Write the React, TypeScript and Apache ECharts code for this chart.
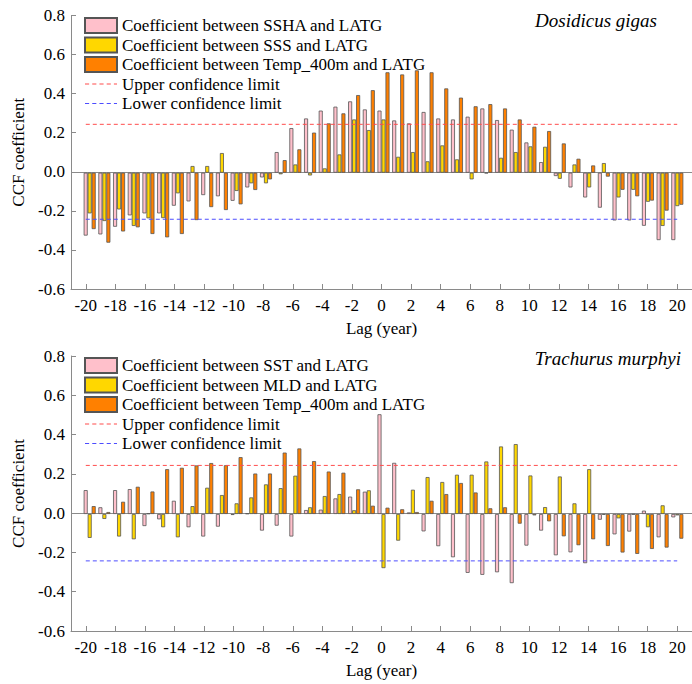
import React, { useEffect, useRef } from "react";
import * as echarts from "echarts";

// Lag (years) for every bar group, and the lags that carry a tick label
const LAGS = [
  -20, -19, -18, -17, -16, -15, -14, -13, -12, -11, -10, -9, -8, -7, -6, -5, -4, -3, -2, -1, 0,
  1, 2, 3, 4, 5, 6, 7, 8, 9, 10, 11, 12, 13, 14, 15, 16, 17, 18, 19, 20,
];
const LAG_TICKS = [-20, -18, -16, -14, -12, -10, -8, -6, -4, -2, 0, 2, 4, 6, 8, 10, 12, 14, 16, 18, 20];

// 95% confidence limits of the cross-correlation
const UPPER_LIMIT = 0.243;
const LOWER_LIMIT = -0.243;

// Dosidicus gigas
const DG_SSHA = [
  -0.32, -0.314, -0.275, -0.217, -0.207, -0.207, -0.168, -0.146, -0.114, -0.12, -0.143, -0.075, -0.024,
  0.105, 0.227, 0.276, 0.316, 0.336, 0.363, 0.322, 0.316, 0.266, 0.251, 0.309, 0.276, 0.271, 0.285,
  0.327, 0.268, 0.219, 0.154, 0.054, -0.017, -0.075, -0.126, -0.178, -0.243, -0.243, -0.27, -0.343, -0.343,
];
const DG_SSS = [
  -0.207, -0.246, -0.187, -0.271, -0.232, -0.231, -0.105, 0.034, 0.034, 0.1, -0.093, -0.054, -0.054,
  -0.008, 0.042, -0.014, 0.022, 0.093, 0.271, 0.217, 0.271, 0.081, 0.105, 0.058, 0.139, 0.068, -0.034,
  -0.003, 0.076, 0.105, 0.134, 0.132, -0.031, 0.042, -0.075, 0.049, -0.126, -0.087, -0.148, -0.271, -0.17,
];
const DG_TEMP400 = [
  -0.287, -0.356, -0.299, -0.278, -0.312, -0.329, -0.312, -0.241, -0.175, -0.19, -0.161, -0.088, -0.034,
  0.064, 0.119, 0.204, 0.251, 0.302, 0.395, 0.42, 0.511, 0.5, 0.521, 0.511, 0.429, 0.382, 0.338,
  0.349, 0.327, 0.271, 0.234, 0.212, 0.149, 0.071, 0.037, -0.02, -0.087, -0.12, -0.142, -0.193, -0.163,
];

// Trachurus murphyi
const TM_SST = [
  0.121, 0.034, 0.121, 0.126, -0.061, -0.027, 0.067, -0.067, -0.114, -0.064, -0.005, 0.003, -0.084,
  -0.059, -0.114, 0.02, 0.022, 0.079, 0.088, 0.113, 0.505, 0.259, 0.008, -0.088, -0.163, -0.219, -0.298,
  -0.308, -0.295, -0.35, -0.16, -0.084, -0.209, -0.194, -0.249, -0.029, -0.103, -0.089, 0.017, -0.118, -0.017,
];
const TM_MLD = [
  -0.121, -0.025, -0.114, -0.128, 0.003, -0.067, -0.118, 0.04, 0.133, 0.096, 0.054, 0.084, 0.15,
  0.131, 0.194, 0.034, 0.091, 0.101, 0.019, 0.12, -0.274, -0.135, 0.123, 0.187, 0.162, 0.199, 0.199,
  0.266, 0.342, 0.354, 0.195, 0.035, 0.19, 0.054, 0.227, -0.004, -0.022, -0.003, -0.067, 0.044, -0.007,
];
const TM_TEMP400 = [
  0.04, 0.01, 0.062, 0.138, 0.114, 0.227, 0.234, 0.246, 0.258, 0.247, 0.288, 0.205, 0.205,
  0.311, 0.332, 0.268, 0.215, 0.209, 0.125, 0.042, 0.032, 0.024, 0.01, 0.067, 0.101, 0.157, 0.109,
  0.029, 0.034, -0.049, -0.007, -0.037, -0.113, -0.158, -0.128, -0.162, -0.195, -0.202, -0.177, -0.17, -0.125,
];

const SERIF = "Liberation Serif, serif";
const AXIS_GREY = "#8a8a8a";
const BAR_EDGE = "#555555";
const PINK = "#FFC0CB";
const GOLD = "#FFD700";
const ORANGE = "#FF8000";
const RED = "#ff4d4d";
const BLUE = "#4d4dff";

// short dashes used as the legend key of the confidence limits
const DASH_ICON = "path://M0 0h4v1H0z M7 0h4v1H7z M14 0h4v1h-4z M21 0h4v1h-4z M28 0h3v1h-3z";

const PX_PER_LAG = 14.85;
const BAR_W = 4;

type PanelProps = {
  species: string;
  names: string[];
  values: number[][];
  gridTop: number;
  gridHeight: number;
  legendTop: number;
  speciesTop: number;
  speciesRight: number;
};

function buildOption(p: PanelProps) {
  const width = 42 * PX_PER_LAG;
  const colors = [PINK, GOLD, ORANGE];
  const label = { fontFamily: SERIF, fontSize: 17, color: "#000" };

  const bars = p.values.map((vals, k) => ({
    type: "bar",
    name: p.names[k],
    xAxisIndex: 1,
    yAxisIndex: 1,
    barWidth: BAR_W,
    barGap: "0%",
    itemStyle: { color: colors[k], borderColor: BAR_EDGE, borderWidth: 0.8 },
    data: LAGS.map((lag, i) => [lag, vals[i]]),
    z: 2,
  }));

  const limit = (name: string, v: number, color: string, zeroLine: boolean) => ({
    type: "line",
    name,
    xAxisIndex: 0,
    yAxisIndex: 0,
    symbol: "none",
    lineStyle: { color, width: 1, type: [4, 3] },
    itemStyle: { color },
    data: [
      [LAG_TICKS[0], v],
      [LAG_TICKS[LAG_TICKS.length - 1], v],
    ],
    z: 3,
    markLine: zeroLine
      ? {
          silent: true,
          symbol: ["none", "none"],
          label: { show: false },
          lineStyle: { color: AXIS_GREY, type: "solid", width: 1 },
          data: [{ yAxis: 0 }],
          z: 1,
        }
      : undefined,
  });

  const fmtY = (v: number) => (Math.abs(v) < 1e-9 ? "0.0" : v.toFixed(1));

  return {
    animation: false,
    textStyle: { fontFamily: SERIF },
    grid: [
      { left: 71, top: p.gridTop, width, height: p.gridHeight },
      { left: 71 + BAR_W, top: p.gridTop, width, height: p.gridHeight },
    ],
    xAxis: [
      {
        type: "value",
        gridIndex: 0,
        min: -21,
        max: 21,
        splitLine: { show: false },
        axisLine: { show: true, onZero: false, lineStyle: { color: AXIS_GREY, width: 1 } },
        axisTick: {
          show: true,
          inside: true,
          length: 5,
          customValues: LAG_TICKS,
          lineStyle: { color: AXIS_GREY },
        },
        axisLabel: { ...label, margin: 8, customValues: LAG_TICKS },
        name: "Lag (year)",
        nameLocation: "middle",
        nameGap: 31,
        nameTextStyle: label,
      },
      { type: "value", gridIndex: 1, min: -21, max: 21, show: false },
    ],
    yAxis: [
      {
        type: "value",
        gridIndex: 0,
        min: -0.6,
        max: 0.8,
        interval: 0.2,
        splitLine: { show: false },
        axisLine: { show: true, onZero: false, lineStyle: { color: AXIS_GREY, width: 1 } },
        axisTick: { show: true, inside: true, length: 5, lineStyle: { color: AXIS_GREY } },
        axisLabel: { ...label, margin: 6, formatter: fmtY },
        name: "CCF coefficient",
        nameLocation: "middle",
        nameGap: 43,
        nameTextStyle: label,
      },
      { type: "value", gridIndex: 1, min: -0.6, max: 0.8, show: false },
    ],
    legend: {
      orient: "vertical",
      left: 84,
      top: p.legendTop,
      itemWidth: 32,
      itemHeight: 15,
      itemGap: 2.5,
      padding: 0,
      symbolKeepAspect: true,
      textStyle: { ...label, lineHeight: 17 },
      data: [
        { name: p.names[0], icon: "rect" },
        { name: p.names[1], icon: "rect" },
        { name: p.names[2], icon: "rect" },
        { name: "Upper confidence limit", icon: DASH_ICON },
        { name: "Lower confidence limit", icon: DASH_ICON },
      ],
    },
    graphic: [
      {
        type: "text",
        right: p.speciesRight,
        top: p.speciesTop,
        style: {
          text: p.species,
          font: `italic 19px ${SERIF}`,
          fill: "#000",
        },
      },
    ],
    series: [
      ...bars,
      limit("Upper confidence limit", UPPER_LIMIT, RED, true),
      limit("Lower confidence limit", LOWER_LIMIT, BLUE, false),
    ],
  };
}

function Panel(props: PanelProps & { offsetTop: number }) {
  const ref = useRef<HTMLDivElement>(null);
  useEffect(() => {
    if (!ref.current) return;
    const chart = echarts.init(ref.current, undefined, { renderer: "svg" });
    chart.setOption(buildOption(props) as any);
    return () => chart.dispose();
  }, []);
  return (
    <div
      ref={ref}
      style={{ position: "absolute", left: 0, top: props.offsetTop, width: 692, height: 342 }}
    />
  );
}

export default function App() {
  return (
    <div style={{ position: "fixed", left: 0, top: 0, width: 692, height: 684, background: "#fff", overflow: "hidden" }}>
      <Panel
        offsetTop={0}
        species="Dosidicus gigas"
        names={[
          "Coefficient between SSHA and LATG",
          "Coefficient between SSS and LATG",
          "Coefficient between Temp_400m and LATG",
        ]}
        values={[DG_SSHA, DG_SSS, DG_TEMP400]}
        gridTop={15.5}
        gridHeight={275.1}
        legendTop={17}
        speciesTop={10.5}
        speciesRight={35}
      />
      <Panel
        offsetTop={342}
        species="Trachurus murphyi"
        names={[
          "Coefficient between SST and LATG",
          "Coefficient between MLD and LATG",
          "Coefficient between Temp_400m and LATG",
        ]}
        values={[TM_SST, TM_MLD, TM_TEMP400]}
        gridTop={14}
        gridHeight={276.5}
        legendTop={15}
        speciesTop={6.5}
        speciesRight={11}
      />
    </div>
  );
}
